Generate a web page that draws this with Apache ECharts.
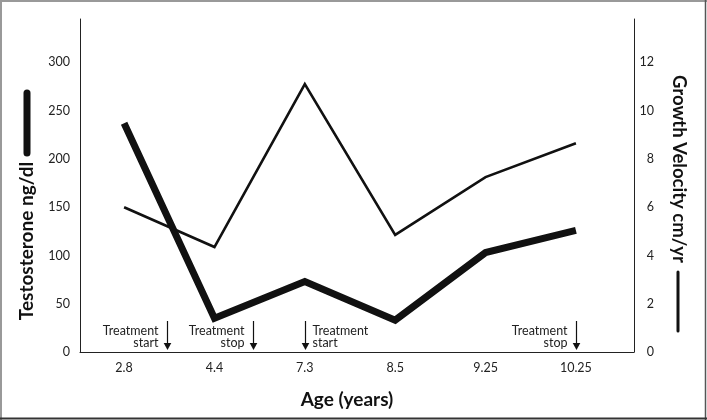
<!DOCTYPE html>
<html>
<head>
<meta charset="utf-8">
<script src="https://cdn.jsdelivr.net/npm/echarts@6/dist/echarts.min.js"></script>
<style>
html,body{margin:0;padding:0;background:#fff;}
#chart{width:707px;height:420px;}
</style>
</head>
<body>
<div id="chart"></div>
<script>
// ---- data ----
var ages = ['2.8', '4.4', '7.3', '8.5', '9.25', '10.25'];
var testosterone = [237, 35, 73, 33, 103, 126];          // ng/dl (thick line, left axis)
var growthVelocity = [6.0, 4.35, 11.1, 4.85, 7.25, 8.65]; // cm/yr (thin line, right axis)
var leftTicks = [0, 50, 100, 150, 200, 250, 300];
var rightTicks = [0, 2, 4, 6, 8, 10, 12];
// treatment annotations (x in category-index units)
var annotX = [0.48, 1.43, 2.0, 5.0];
var annotText = ['Treatment\nstart', 'Treatment\nstop', 'Treatment\nstart', 'Treatment\nstop'];
var annotSide = ['left', 'left', 'right', 'left'];

var FONT = 'Lato, "Open Sans", sans-serif';
var chart = echarts.init(document.getElementById('chart'), null, {renderer: 'canvas'});

function idxPairs(arr) { return arr.map(function (v, i) { return [i, v]; }); }

var option = {
  backgroundColor: '#fff',
  animation: false,
  grid: {left: 80, right: 73, top: 19, bottom: 68, containLabel: false},
  xAxis: {
    type: 'value',
    min: -0.488, max: 5.643,
    axisLine: {show: true, onZero: false, lineStyle: {color: '#222', width: 1}},
    axisTick: {show: false},
    splitLine: {show: false},
    axisLabel: {
      customValues: ages.map(function (a, i) { return i; }),
      formatter: function (v) { return ages[Math.round(v)] || ''; },
      color: '#222', fontFamily: FONT, fontSize: 12.5, margin: 9
    }
  },
  yAxis: [{
    type: 'value', position: 'left',
    min: 0, max: 345,
    axisLine: {show: true, onZero: false, lineStyle: {color: '#222', width: 1}},
    axisTick: {show: false},
    splitLine: {show: false},
    axisLabel: {customValues: leftTicks, color: '#222', fontFamily: FONT, fontSize: 12.5, margin: 10}
  }, {
    type: 'value', position: 'right',
    min: 0, max: 13.8,
    axisLine: {show: true, onZero: false, lineStyle: {color: '#222', width: 1}},
    axisTick: {show: false},
    splitLine: {show: false},
    axisLabel: {customValues: rightTicks, color: '#222', fontFamily: FONT, fontSize: 12.5, margin: 20, align: 'right'}
  }],
  series: [{
    name: 'Testosterone ng/dl',
    type: 'line', yAxisIndex: 0,
    data: idxPairs(testosterone),
    symbol: 'none',
    lineStyle: {color: '#111', width: 7, join: 'miter', cap: 'butt'}
  }, {
    name: 'Growth Velocity cm/yr',
    type: 'line', yAxisIndex: 1,
    data: idxPairs(growthVelocity),
    symbol: 'none',
    lineStyle: {color: '#111', width: 2.6, join: 'miter', cap: 'butt'}
  }, {
    type: 'custom',
    yAxisIndex: 0,
    data: annotX.map(function (x, i) { return [x, 0, i]; }),
    renderItem: function (params, api) {
      var p = api.coord([api.value(0), 0]);
      var i = api.value(2);
      var x = Math.round(p[0]) + 0.5, yb = p[1];
      var side = annotSide[i];
      var lines = annotText[i].split('\n');
      var tx = side === 'left' ? x - 9 : x + 7;
      return {
        type: 'group',
        children: [
          {type: 'line', shape: {x1: x, y1: yb - 31, x2: x, y2: yb - 7},
           style: {stroke: '#111', lineWidth: 1.2}},
          {type: 'polygon', shape: {points: [[x - 3.8, yb - 9], [x + 3.8, yb - 9], [x, yb - 2]]},
           style: {fill: '#111'}},
          {type: 'text', x: tx, y: yb - 21,
           style: {text: lines[0], fill: '#222', font: '12.5px ' + FONT, align: side === 'left' ? 'right' : 'left', verticalAlign: 'middle'}},
          {type: 'text', x: tx, y: yb - 9,
           style: {text: lines[1], fill: '#222', font: '12.5px ' + FONT, align: side === 'left' ? 'right' : 'left', verticalAlign: 'middle'}}
        ]
      };
    },
    silent: true,
    z: 5
  }],
  graphic: [
    // axis titles
    {type: 'text', x: 27, y: 241, rotation: Math.PI / 2,
     style: {text: 'Testosterone ng/dl', fill: '#111', font: 'bold 19px ' + FONT, align: 'center', verticalAlign: 'middle'}},
    {type: 'line', shape: {x1: 27, y1: 93, x2: 27, y2: 153},
     style: {stroke: '#111', lineWidth: 7, lineCap: 'round'}},
    {type: 'text', x: 679, y: 169, rotation: -Math.PI / 2,
     style: {text: 'Growth Velocity cm/yr', fill: '#111', font: 'bold 18.5px ' + FONT, align: 'center', verticalAlign: 'middle'}},
    {type: 'line', shape: {x1: 678, y1: 272, x2: 678, y2: 331},
     style: {stroke: '#111', lineWidth: 3, lineCap: 'round'}},
    {type: 'text', x: 347, y: 400,
     style: {text: 'Age (years)', fill: '#111', font: 'bold 19px ' + FONT, align: 'center', verticalAlign: 'middle'}},
    // frame
    {type: 'line', shape: {x1: 0, y1: 1, x2: 707, y2: 1}, style: {stroke: '#999', lineWidth: 2}},
    {type: 'line', shape: {x1: 1, y1: 0, x2: 1, y2: 420}, style: {stroke: '#999', lineWidth: 2}},
    {type: 'line', shape: {x1: 705.5, y1: 0, x2: 705.5, y2: 420}, style: {stroke: '#555', lineWidth: 1.5}},
    {type: 'line', shape: {x1: 0, y1: 418.5, x2: 707, y2: 418.5}, style: {stroke: '#333', lineWidth: 2}}
  ]
};
chart.setOption(option);
</script>
</body>
</html>
